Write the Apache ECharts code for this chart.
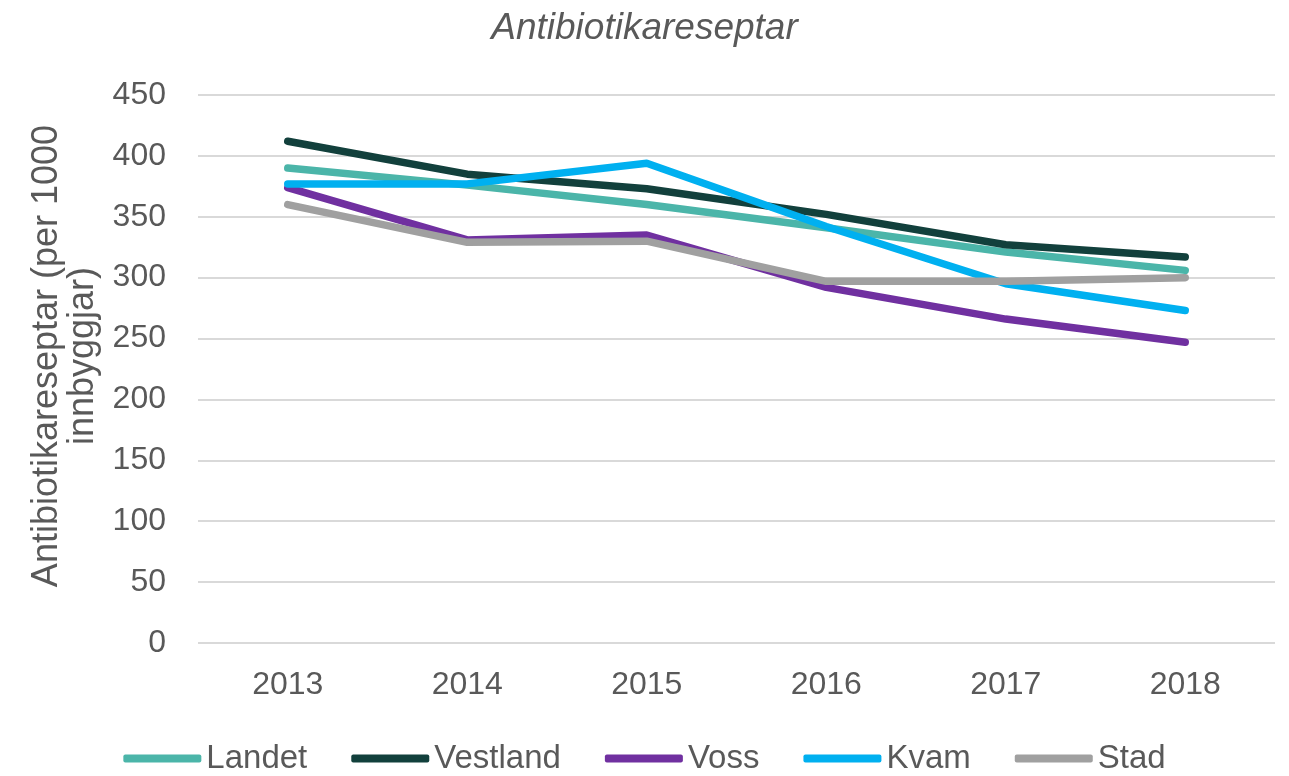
<!DOCTYPE html>
<html><head><meta charset="utf-8">
<script src="https://cdn.jsdelivr.net/npm/echarts@6/dist/echarts.min.js"></script>
<style>html,body{margin:0;padding:0;background:#fff}#c{width:1289px;height:776px}</style>
</head><body><div id="c"></div>
<script>
const years = ['2013','2014','2015','2016','2017','2018'];
const landet = [390, 376, 360, 341, 321, 306];
const vestland = [412, 385, 373, 352, 327, 317];
const voss = [374, 331, 335, 292, 266, 247];
const kvam = [377, 377, 394, 342, 295, 273];
const stad = [360, 329, 330, 297, 297, 300];
const seriesNames = ['Landet','Vestland','Voss','Kvam','Stad'];
const seriesData = [landet, vestland, voss, kvam, stad];
const colors = ['#4BB5A9','#12403C','#7030A0','#00B0F0','#A0A0A0'];
const yTicks = {min:0, max:450, interval:50};

const chart = echarts.init(document.getElementById('c'), null, {renderer:'canvas'});
const font = 'Liberation Sans, Arial, sans-serif';
chart.setOption({
  animation:false,
  color: colors,
  title:{text:'Antibiotikareseptar', left:'center', top:5,
    textStyle:{fontFamily:font, fontStyle:'italic', fontWeight:'normal', fontSize:37, color:'#595959'}},
  grid:{left:198, right:14, top:95, bottom:133},
  legend:{bottom:-4, left:'center', itemWidth:78, itemHeight:8, itemGap:44, icon:'roundRect',
    textStyle:{fontFamily:font, fontSize:33, color:'#595959'},
    data: seriesNames},
  xAxis:{type:'category', data:years, boundaryGap:true,
    axisLine:{show:false}, axisTick:{show:false},
    axisLabel:{fontFamily:font, fontSize:32, color:'#595959', margin:26}},
  yAxis:{type:'value', min:yTicks.min, max:yTicks.max, interval:yTicks.interval,
    name:'Antibiotikareseptar (per 1000\ninnbyggjar)', nameLocation:'middle', nameGap:97, nameRotate:90,
    nameTextStyle:{fontFamily:font, fontSize:36, color:'#595959', lineHeight:36, padding:[0,0,0,26]},
    axisLine:{show:false}, axisTick:{show:false},
    axisLabel:{fontFamily:font, fontSize:32, color:'#595959', margin:32},
    splitLine:{lineStyle:{color:'#D9D9D9', width:2}}},
  series: seriesNames.map((n,i)=>({
    name:n, type:'line', data:seriesData[i], showSymbol:false, symbol:'none',
    lineStyle:{width:7.5, color:colors[i], cap:'round', join:'round'},
    itemStyle:{color:colors[i]}
  }))
});
</script></body></html>
